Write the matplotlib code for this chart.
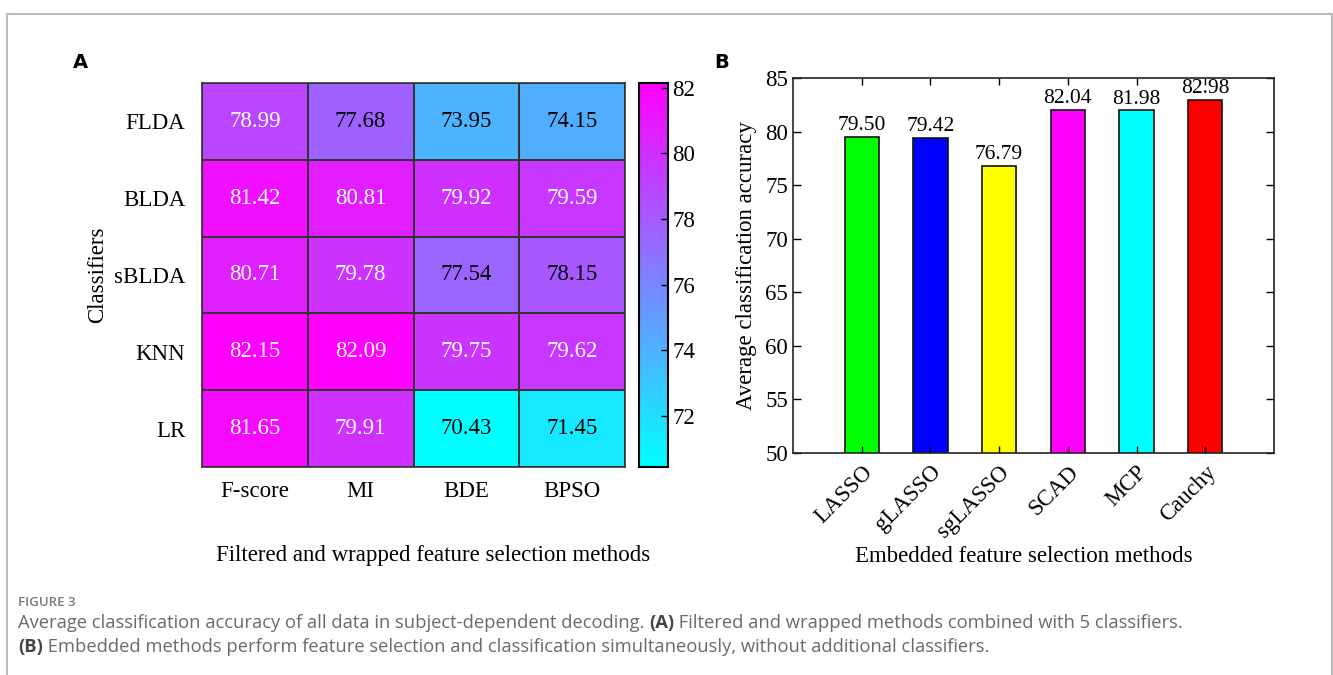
import numpy as np
import matplotlib.pyplot as plt
import matplotlib as mpl
from matplotlib.patches import Rectangle

SERIF = "Liberation Serif"
CAPTION_FONT = "Open Sans"

# panel A: filtered / wrapped methods x classifiers
classifiers = ["FLDA", "BLDA", "sBLDA", "KNN", "LR"]
fs_methods = ["F-score", "MI", "BDE", "BPSO"]
acc_matrix = np.array([
    [78.99, 77.68, 73.95, 74.15],
    [81.42, 80.81, 79.92, 79.59],
    [80.71, 79.78, 77.54, 78.15],
    [82.15, 82.09, 79.75, 79.62],
    [81.65, 79.91, 70.43, 71.45],
])
cbar_ticks = [72, 74, 76, 78, 80, 82]

# panel B: embedded methods
embedded = ["LASSO", "gLASSO", "sgLASSO", "SCAD", "MCP", "Cauchy"]
embedded_acc = [79.50, 79.42, 76.79, 82.04, 81.98, 82.98]
bar_colors = ["#00ff00", "#0000ff", "#ffff00", "#ff00ff", "#00ffff", "#ff0000"]

W, H = 1333, 675
fig = plt.figure(figsize=(W / 100, H / 100), dpi=100)
plt.rcParams["font.family"] = SERIF


def fx(px):
    return px / W


def fy(py):
    return 1 - py / H


# outer frame
fig.patches.append(Rectangle((fx(7), -0.02), fx(1325), fy(14) + 0.02,
                             transform=fig.transFigure, fill=False,
                             edgecolor="#bbbbbb", linewidth=1.5))

"""Heatmap"""
ax0 = fig.add_axes([fx(202), fy(467), fx(423), fy(83) - fy(467)])
vmin, vmax = acc_matrix.min(), acc_matrix.max()
im = ax0.pcolormesh(acc_matrix, cmap="cool", vmin=vmin, vmax=vmax,
                    edgecolors="#333333", linewidth=1.2)
ax0.set_xlim(0, len(fs_methods))
ax0.set_ylim(len(classifiers), 0)
for i in range(len(classifiers)):
    for j in range(len(fs_methods)):
        v = acc_matrix[i, j]
        ax0.text(j + 0.5, i + 0.5, f"{v:.2f}", ha="center", va="center",
                 fontsize=16.5, color="white" if v > 78.5 else "black")
ax0.set_xticks(np.arange(len(fs_methods)) + 0.5, fs_methods, fontsize=16.5)
ax0.set_yticks(np.arange(len(classifiers)) + 0.5, classifiers, fontsize=16.5)
ax0.tick_params(length=0, pad=12)
ax0.tick_params(axis="x", pad=10)
for s in ax0.spines.values():
    s.set_edgecolor("#333333")
    s.set_linewidth(1.2)
ax0.set_ylabel("Classifiers", fontsize=16.5)

cax = fig.add_axes([fx(639), fy(467), fx(29), fy(83) - fy(467)])
cb = fig.colorbar(im, cax=cax)
cb.set_ticks(cbar_ticks)
cb.ax.tick_params(labelsize=16.5, direction="in", length=5, width=1, pad=3)
cb.outline.set_linewidth(1.5)

fig.text(fx(433), fy(556), "Filtered and wrapped feature selection methods",
         fontsize=16.5, ha="center", va="center")

"""Bar chart"""
ax1 = fig.add_axes([fx(793), fy(453), fx(481), fy(78) - fy(453)])
xpos = np.arange(1, len(embedded) + 1)
bars = ax1.bar(xpos, embedded_acc, width=0.5, color=bar_colors,
               edgecolor="#111111", linewidth=1.2)
for b, v in zip(bars, embedded_acc):
    ax1.text(b.get_x() + b.get_width() / 2, v + 0.15, f"{v:.2f}",
             ha="center", va="bottom", fontsize=15.5, clip_on=False)
ax1.set_xlim(0, len(embedded) + 1)
ax1.set_ylim(50, 85)
ax1.set_yticks(np.arange(50, 86, 5))
ax1.set_xticks(xpos)
ax1.set_xticklabels(embedded, rotation=45, ha="right",
                    rotation_mode="anchor", fontsize=16.5)
ax1.tick_params(axis="y", labelsize=16.5, direction="in", length=6,
                right=True, width=1)
ax1.tick_params(axis="x", direction="in", length=5, top=True, width=1,
                pad=6)
for s in ax1.spines.values():
    s.set_linewidth(1.2)
    s.set_edgecolor("#222222")
ax1.set_ylabel("Average classification accuracy", fontsize=16.5, labelpad=6)
fig.text(fx(1024), fy(556), "Embedded feature selection methods",
         fontsize=16.5, ha="center", va="center")

# panel letters
fig.text(fx(80), fy(62), "A", fontsize=14, fontweight="bold",
         family="DejaVu Sans", ha="center", va="center")
fig.text(fx(722), fy(62), "B", fontsize=14, fontweight="bold",
         family="DejaVu Sans", ha="center", va="center")

"""Caption"""
fig.text(fx(18), fy(603), "FIGURE 3", fontsize=9.5, color="#7a7a7a",
         family=CAPTION_FONT, fontweight="semibold", va="center")
renderer = fig.canvas.get_renderer()


def caption_line(y, pieces):
    x = fx(18)
    for txt, bold in pieces:
        t = fig.text(x, fy(y), txt, fontsize=13.2, family=CAPTION_FONT,
                     color="#444444" if bold else "#6a6a6a",
                     fontweight="bold" if bold else "normal", va="center")
        bb = t.get_window_extent(renderer)
        x += bb.width / W


caption_line(623, [
    ("Average classification accuracy of all data in subject-dependent "
     "decoding. ", False),
    ("(A)", True),
    (" Filtered and wrapped methods combined with 5 classifiers.", False),
])
caption_line(647, [
    ("(B)", True),
    (" Embedded methods perform feature selection and classification "
     "simultaneously, without additional classifiers.", False),
])

fig.savefig("out.png", dpi=100)
